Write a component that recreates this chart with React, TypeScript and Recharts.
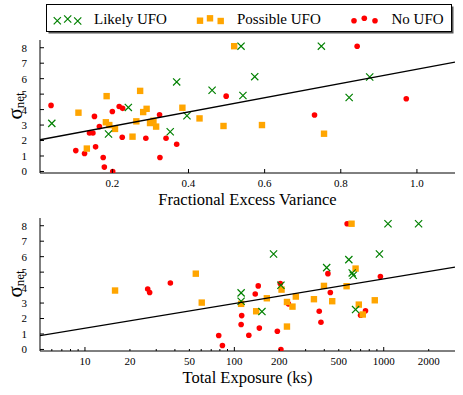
import { Scatter, ScatterChart, XAxis, YAxis } from "recharts";

// ---- top panel: sigma_net vs fractional excess variance ----
const fevLikely = [0.041, 0.19, 0.242, 0.352, 0.369, 0.396, 0.462, 0.538, 0.543, 0.574, 0.749, 0.822, 0.876];
const sigLikelyTop = [3.11, 2.42, 4.14, 2.57, 5.79, 3.6, 5.25, 8.1, 4.91, 6.13, 8.1, 4.78, 6.11];

const fevPossible = [0.111, 0.133, 0.185, 0.183, 0.192, 0.207, 0.253, 0.273, 0.263, 0.281, 0.29, 0.299, 0.308, 0.315, 0.384, 0.429, 0.492, 0.52, 0.593, 0.756];
const sigPossibleTop = [3.8, 1.48, 4.87, 3.18, 3.0, 2.75, 2.25, 5.21, 3.24, 3.84, 4.05, 3.13, 3.28, 2.9, 4.12, 3.43, 2.94, 8.1, 3.0, 2.44];

const fevNone = [0.039, 0.104, 0.127, 0.153, 0.14, 0.149, 0.156, 0.166, 0.176, 0.179, 0.201, 0.2, 0.218, 0.227, 0.226, 0.288, 0.324, 0.325, 0.341, 0.369, 0.499, 0.843, 0.731, 0.972];
const sigNoneTop = [4.27, 1.35, 1.16, 3.56, 2.49, 2.49, 1.59, 2.9, 0.9, 0.28, 0.0, 3.88, 4.2, 4.08, 2.21, 2.15, 3.67, 0.9, 2.15, 1.76, 4.87, 8.1, 3.65, 4.7];

const fevFit = [0.01, 1.1];
const sigFitTop = [2.05, 7.07];
const fevTicks = [0.2, 0.4, 0.6, 0.8, 1.0];

// ---- bottom panel: sigma_net vs total exposure (ks) ----
const expLikely = [111, 111, 153, 183, 205, 415, 584, 615, 625, 648, 936, 1068, 1711];
const sigLikelyBot = [3.66, 3.12, 2.45, 6.17, 4.15, 5.29, 5.81, 4.95, 4.8, 2.58, 6.17, 8.13, 8.13];

const expPossible = [15.9, 55.2, 60.5, 111, 140, 165, 207, 225, 225, 245, 258, 341, 398, 452, 564, 609, 648, 681, 724, 871];
const sigPossibleBot = [3.81, 4.9, 3.03, 2.95, 2.47, 3.31, 3.87, 3.07, 1.48, 2.77, 3.42, 3.25, 4.11, 3.12, 4.09, 8.13, 5.23, 2.9, 2.26, 3.18];

const expNone = [26.3, 27.1, 37.3, 78.6, 83.2, 112, 111, 125, 138, 144.5, 147, 194, 203, 205, 230, 370, 380, 423, 439, 569, 700, 755, 950];
const sigNoneBot = [3.91, 3.68, 4.3, 0.9, 0.26, 2.19, 1.61, 0.92, 3.59, 4.11, 1.38, 1.18, 4.26, 0.0, 2.95, 2.47, 1.76, 4.9, 3.68, 8.13, 2.21, 2.5, 4.71];

const expFit = [5, 3000];
const sigFitBot = [0.9, 5.33];
const expTicks = [6, 7, 8, 9, 10, 20, 30, 40, 50, 60, 70, 80, 90, 100, 200, 300, 400, 500, 600, 700, 800, 900, 1000, 2000];
const expLabels = [10, 20, 50, 100, 200, 500, 1000, 2000];
const expDecades = [10, 100, 1000];

const sigTicks = [0, 1, 2, 3, 4, 5, 6, 7, 8];

const legendNames = ["Likely UFO", "Possible UFO", "No UFO"];

const FONT = "'Liberation Serif', 'Times New Roman', serif";
const GREEN = "#008000";
const ORANGE = "#FFA500";
const RED = "#FF0000";
const X_MARGIN = 6;
const Y_MARGIN = 13;

const zip = (xs: number[], ys: number[]) => xs.map((x, i) => ({ x, y: ys[i] }));

const Cross = ({ cx, cy }: any) => (
  <path
    d={`M${cx - 3.6},${cy - 3.6}L${cx + 3.6},${cy + 3.6}M${cx - 3.6},${cy + 3.6}L${cx + 3.6},${cy - 3.6}`}
    stroke={GREEN}
    strokeWidth={1.2}
    fill="none"
  />
);
const Square = ({ cx, cy }: any) => <rect x={cx - 3.2} y={cy - 3.2} width={6.4} height={6.4} fill={ORANGE} />;
const Dot = ({ cx, cy }: any) => <circle cx={cx} cy={cy} r={2.8} fill={RED} />;
const Nothing = () => <g />;

type TickFn = (v: number) => { label: string | null; len: number };

const bottomTick = (fn: TickFn) => (p: any) => {
  const axisY = p.y - X_MARGIN;
  const { label, len } = fn(p.payload.value);
  return (
    <g>
      <line x1={p.x} x2={p.x} y1={axisY} y2={axisY - len} stroke="#000" />
      {label && (
        <text x={p.x} y={p.y} dy="0.71em" textAnchor="middle" fontSize={11} fontFamily={FONT} fill="#000">
          {label}
        </text>
      )}
    </g>
  );
};

const topTick = (fn: TickFn) => (p: any) => {
  const { len } = fn(p.payload.value);
  return <line x1={p.x} x2={p.x} y1={p.y} y2={p.y + len} stroke="#000" />;
};

const leftTick = (p: any) => {
  const axisX = p.x + Y_MARGIN;
  return (
    <g>
      <line x1={axisX} x2={axisX + 4} y1={p.y} y2={p.y} stroke="#000" />
      <text x={p.x} y={p.y} dy="0.36em" textAnchor="end" fontSize={11} fontFamily={FONT} fill="#000">
        {p.payload.value}
      </text>
    </g>
  );
};

const rightTick = (p: any) => <line x1={p.x} x2={p.x - 4} y1={p.y} y2={p.y} stroke="#000" />;

function Panel(props: {
  top: number;
  height: number;
  axisHeight: number;
  labelOffset: number;
  xLabel: string;
  xDomain: [number, number];
  log?: boolean;
  xTicks: number[];
  tickFn: TickFn;
  likely: { x: number; y: number }[];
  possible: { x: number; y: number }[];
  none: { x: number; y: number }[];
  fit: { x: number; y: number }[];
}) {
  const scale = props.log ? "log" : "linear";
  return (
    <div style={{ position: "absolute", left: 0, top: props.top }}>
      <ScatterChart width={463} height={props.height} margin={{ top: 40, right: 8, bottom: 0, left: 0 }}>
        <XAxis
          xAxisId="b"
          type="number"
          dataKey="x"
          scale={scale}
          domain={props.xDomain}
          allowDataOverflow
          ticks={props.xTicks}
          interval={0}
          height={props.axisHeight}
          tickSize={0}
          tickMargin={X_MARGIN}
          tick={bottomTick(props.tickFn)}
          axisLine={{ stroke: "#000" }}
          label={{
            value: props.xLabel,
            position: "insideBottom",
            offset: props.labelOffset,
            fontSize: 16.5,
            fontFamily: FONT,
            fill: "#000",
          }}
        />
        <XAxis
          xAxisId="t"
          orientation="top"
          type="number"
          dataKey="x"
          scale={scale}
          domain={props.xDomain}
          allowDataOverflow
          ticks={props.xTicks}
          interval={0}
          height={0}
          tickSize={0}
          tickMargin={0}
          tick={topTick(props.tickFn)}
          axisLine={{ stroke: "#000" }}
        />
        <YAxis
          yAxisId="l"
          type="number"
          dataKey="y"
          domain={[-0.1, 8.5]}
          allowDataOverflow
          ticks={sigTicks}
          interval={0}
          width={40}
          tickSize={0}
          tickMargin={Y_MARGIN}
          tick={leftTick}
          axisLine={{ stroke: "#000" }}
        />
        <YAxis
          yAxisId="r"
          orientation="right"
          type="number"
          dataKey="y"
          domain={[-0.1, 8.5]}
          allowDataOverflow
          ticks={sigTicks}
          interval={0}
          width={0}
          tickSize={0}
          tickMargin={0}
          tick={rightTick}
          axisLine={{ stroke: "#000" }}
        />
        <Scatter xAxisId="b" yAxisId="l" data={props.none} shape={Dot} isAnimationActive={false} />
        <Scatter xAxisId="b" yAxisId="l" data={props.possible} shape={Square} isAnimationActive={false} />
        <Scatter xAxisId="b" yAxisId="l" data={props.likely} shape={Cross} isAnimationActive={false} />
        <Scatter
          xAxisId="t"
          yAxisId="r"
          data={props.fit}
          shape={Nothing}
          line={{ stroke: "#000", strokeWidth: 1.3 }}
          isAnimationActive={false}
        />
      </ScatterChart>
    </div>
  );
}

function Overlay() {
  const sigmaLabel = (cy: number) => (
    <text transform={`translate(22,${cy}) rotate(-90)`} textAnchor="middle" fontFamily={FONT} fill="#000">
      <tspan fontSize={21}>σ</tspan>
      <tspan fontSize={13} dy={2}>
        net
      </tspan>
    </text>
  );
  return (
    <svg width={463} height={395} style={{ position: "absolute", left: 0, top: 0 }}>
      <rect x={48.5} y={6.5} width={405} height={27} fill="#555" />
      <rect x={46.5} y={4.5} width={405} height={27} fill="#fff" stroke="#000" />
      {[57.3, 67.7, 77.7].map((cx, i) => (
        <Cross key={`g${i}`} cx={cx} cy={[20.7, 19, 21][i]} />
      ))}
      {[200, 210, 220.7].map((cx, i) => (
        <Square key={`o${i}`} cx={cx} cy={[20.7, 18.3, 21][i]} />
      ))}
      {[354, 364.3, 375].map((cx, i) => (
        <Dot key={`r${i}`} cx={cx} cy={[20.7, 18.3, 20.7][i]} />
      ))}
      {legendNames.map((name, i) => (
        <text key={name} x={[94, 237, 391.5][i]} y={24} fontSize={15} fontFamily={FONT} fill="#000">
          {name}
        </text>
      ))}
      {sigmaLabel(106)}
      {sigmaLabel(284)}
    </svg>
  );
}

export default function App() {
  return (
    <div style={{ position: "absolute", left: 0, top: 0, width: 463, height: 395, background: "#fff" }}>
      <Panel
        top={0}
        height={215}
        axisHeight={42}
        labelOffset={10}
        xLabel="Fractional Excess Variance"
        xDomain={[0.01, 1.1]}
        xTicks={fevTicks}
        tickFn={(v) => ({ label: v.toFixed(1), len: 4 })}
        likely={zip(fevLikely, sigLikelyTop)}
        possible={zip(fevPossible, sigPossibleTop)}
        none={zip(fevNone, sigNoneTop)}
        fit={zip(fevFit, sigFitTop)}
      />
      <Panel
        top={178}
        height={217}
        axisHeight={44}
        labelOffset={12}
        xLabel="Total Exposure (ks)"
        xDomain={[5, 3000]}
        log
        xTicks={expTicks}
        tickFn={(v) => ({
          label: expLabels.includes(v) ? String(v) : null,
          len: expDecades.includes(v) ? 4 : 2,
        })}
        likely={zip(expLikely, sigLikelyBot)}
        possible={zip(expPossible, sigPossibleBot)}
        none={zip(expNone, sigNoneBot)}
        fit={zip(expFit, sigFitBot)}
      />
      <Overlay />
    </div>
  );
}
